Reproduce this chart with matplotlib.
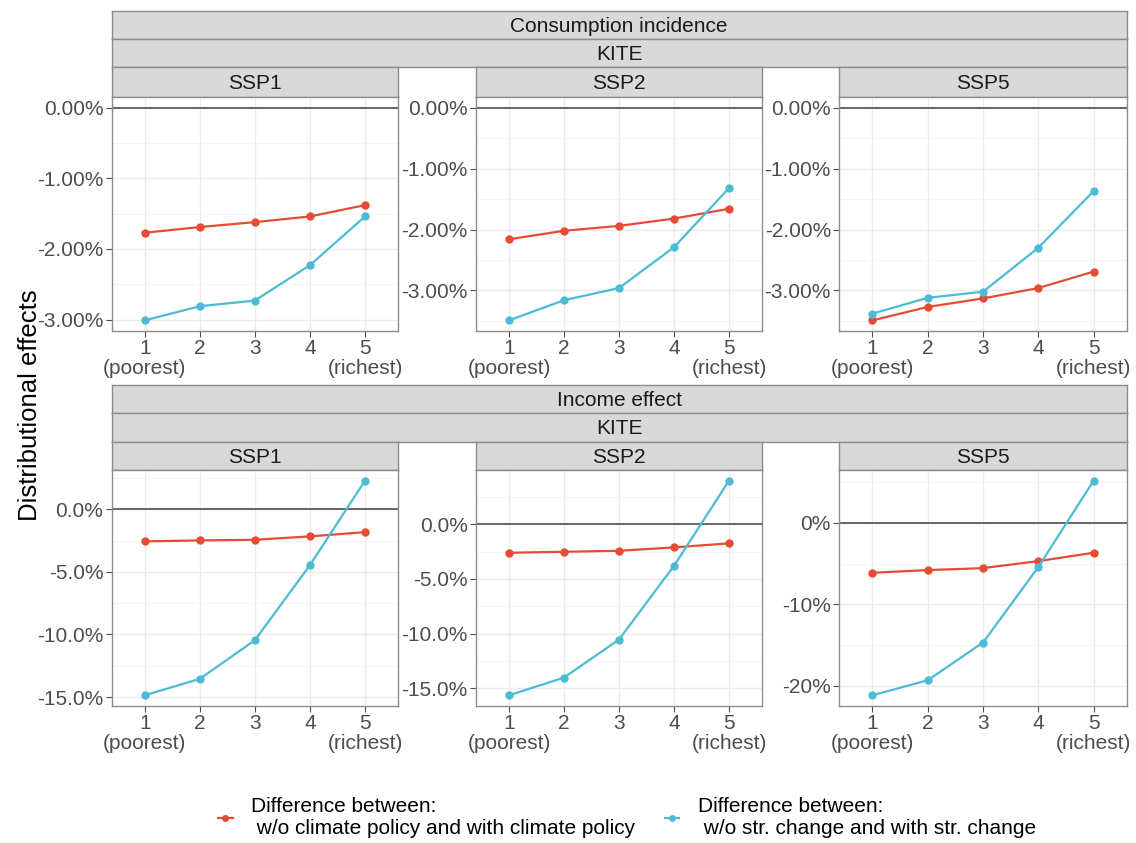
import matplotlib
matplotlib.use('Agg')
import matplotlib.pyplot as plt
from matplotlib.lines import Line2D
from matplotlib.ticker import MultipleLocator, FuncFormatter

plt.rcParams['font.family'] = ['Liberation Sans', 'DejaVu Sans']

# quintiles
quintiles = [1, 2, 3, 4, 5]
quintile_labels = ['1\n(poorest)', '2', '3', '4', '5\n(richest)']
scenarios = ['SSP1', 'SSP2', 'SSP5']

# consumption incidence (%)
cons_ssp1_climate = [-1.77, -1.69, -1.62, -1.54, -1.38]
cons_ssp1_struct = [-3.01, -2.81, -2.73, -2.23, -1.54]
cons_ssp2_climate = [-2.16, -2.02, -1.94, -1.82, -1.66]
cons_ssp2_struct = [-3.49, -3.16, -2.96, -2.29, -1.32]
cons_ssp5_climate = [-3.49, -3.27, -3.13, -2.96, -2.69]
cons_ssp5_struct = [-3.38, -3.12, -3.02, -2.30, -1.37]

# income effect (%)
inc_ssp1_climate = [-2.56, -2.48, -2.43, -2.16, -1.82]
inc_ssp1_struct = [-14.86, -13.55, -10.46, -4.46, 2.29]
inc_ssp2_climate = [-2.60, -2.51, -2.42, -2.11, -1.74]
inc_ssp2_struct = [-15.66, -14.04, -10.55, -3.80, 4.00]
inc_ssp5_climate = [-6.13, -5.80, -5.56, -4.70, -3.68]
inc_ssp5_struct = [-21.14, -19.30, -14.68, -5.44, 5.15]

label_climate = 'Difference between:\n w/o climate policy and with climate policy'
label_struct = 'Difference between:\n w/o str. change and with str. change'
RED = '#E64B35'
BLUE = '#4DBBD5'

W, H = 1136, 843
fig = plt.figure(figsize=(W / 100, H / 100), dpi=100)


def rect(x0, y0, x1, y1):
    return [x0 / W, 1 - y1 / H, (x1 - x0) / W, (y1 - y0) / H]


def strip(x0, y0, x1, y1, text):
    sa = fig.add_axes(rect(x0, y0, x1, y1))
    sa.set_facecolor('#D9D9D9')
    sa.set_xticks([])
    sa.set_yticks([])
    for s in sa.spines.values():
        s.set_color('#8C8C8C')
        s.set_linewidth(1.0)
    sa.text(0.5, 0.46, text, ha='center', va='center', fontsize=15,
            color='#1A1A1A', transform=sa.transAxes)


def panel(x0, y0, x1, y1, climate, struct, step, fmt):
    ax = fig.add_axes(rect(x0, y0, x1, y1))
    ax.set_axisbelow(True)
    ax.yaxis.set_major_locator(MultipleLocator(step))
    ax.yaxis.set_minor_locator(MultipleLocator(step / 2))
    ax.yaxis.set_major_formatter(FuncFormatter(lambda v, p: fmt.format(v) + '%'))
    ax.grid(True, which='major', color='#EBEBEB', lw=1.0)
    ax.grid(True, which='minor', axis='y', color='#F4F4F4', lw=0.6)
    ax.axhline(0, color='#666666', lw=1.4, zorder=1)
    ax.plot(quintiles, climate, color=RED, lw=1.6, marker='o', ms=5, zorder=3)
    ax.plot(quintiles, struct, color=BLUE, lw=1.6, marker='o', ms=5, zorder=3)
    vals = climate + struct + [0]
    lo, hi = min(vals), max(vals)
    pad = 0.05 * (hi - lo)
    ax.set_ylim(lo - pad, hi + pad)
    ax.set_xlim(0.4, 5.6)
    ax.set_xticks(quintiles)
    ax.set_xticklabels(quintile_labels)
    ax.tick_params(axis='both', labelsize=15, labelcolor='#4D4D4D', color='#4D4D4D',
                   length=4, width=0.8, pad=2)
    ax.tick_params(axis='y', which='minor', length=0)
    for lab in ax.get_xticklabels():
        lab.set_linespacing(1.05)
    for s in ax.spines.values():
        s.set_color('#8C8C8C')
        s.set_linewidth(1.0)
    return ax


cols = [(111.7, 398), (476, 762), (839.3, 1126.7)]

# top block: consumption incidence
strip(cols[0][0], 11, cols[2][1], 39, 'Consumption incidence')
strip(cols[0][0], 39, cols[2][1], 67, 'KITE')
cons_data = [(cons_ssp1_climate, cons_ssp1_struct),
             (cons_ssp2_climate, cons_ssp2_struct),
             (cons_ssp5_climate, cons_ssp5_struct)]
for (x0, x1), name, (c, s) in zip(cols, scenarios, cons_data):
    strip(x0, 67, x1, 97, name)
    panel(x0, 97, x1, 331, c, s, 1.0, '{:.2f}')

# bottom block: income effect
strip(cols[0][0], 385, cols[2][1], 413, 'Income effect')
strip(cols[0][0], 413, cols[2][1], 442, 'KITE')
inc_data = [(inc_ssp1_climate, inc_ssp1_struct, 5.0, '{:.1f}'),
            (inc_ssp2_climate, inc_ssp2_struct, 5.0, '{:.1f}'),
            (inc_ssp5_climate, inc_ssp5_struct, 10.0, '{:.0f}')]
for (x0, x1), name, (c, s, step, fmt) in zip(cols, scenarios, inc_data):
    strip(x0, 442, x1, 470, name)
    panel(x0, 470, x1, 706, c, s, step, fmt)

fig.text(30 / W, 1 - 405 / H, 'Distributional effects', rotation=90,
         ha='center', va='center', fontsize=18.5, color='black')

handles = [Line2D([0], [0], color=RED, lw=1.6, marker='o', ms=4),
           Line2D([0], [0], color=BLUE, lw=1.6, marker='o', ms=4)]
fig.legend(handles, [label_climate, label_struct], loc='center',
           bbox_to_anchor=(627 / W, 1 - 818 / H), ncol=2, frameon=False,
           fontsize=15, handlelength=0.7, handletextpad=0.9, columnspacing=1.4)

fig.savefig('out.png', dpi=100)
